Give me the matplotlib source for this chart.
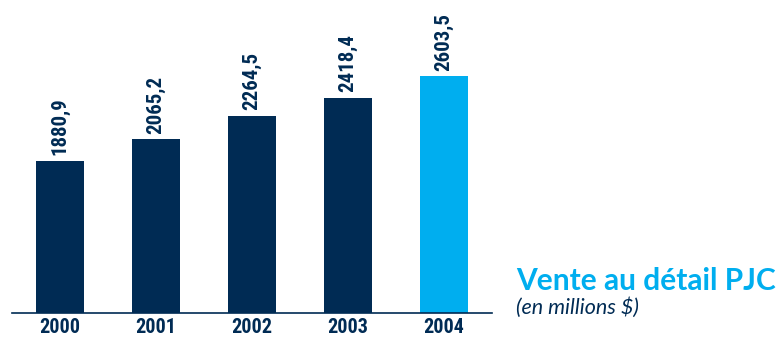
import matplotlib
matplotlib.use('Agg')
import matplotlib.pyplot as plt
from matplotlib import font_manager

# Retail sales by year (millions $)
years = ['2000', '2001', '2002', '2003', '2004']
sales = [1880.9, 2065.2, 2264.5, 2418.4, 2603.5]
labels = ['1880,9', '2065,2', '2264,5', '2418,4', '2603,5']

navy = '#002B54'
cyan = '#00AEEF'
colors = [navy, navy, navy, navy, cyan]

# pick a narrow face if one is around
names = {f.name for f in font_manager.fontManager.ttflist}
narrow = 'DejaVu Sans'
for cand in ['Liberation Sans Narrow', 'Roboto Condensed', 'Open Sans Condensed',
             'DejaVu Sans Condensed', 'Noto Sans Condensed']:
    if cand in names:
        narrow = cand
        break

fig = plt.figure(figsize=(7.83, 3.4), dpi=100)
ax = fig.add_axes([12 / 783, 27.3 / 340, 480 / 783, 312.7 / 340])

x = range(len(years))
bars = ax.bar(x, sales, width=0.5, color=colors, bottom=0)

ax.set_xlim(-0.5, 4.5)
ax.set_ylim(575, 575 + 312.7 / 0.1165)

# value labels standing on top of each bar
for xi, v, lab in zip(x, sales, labels):
    ax.annotate(lab, (xi, v), xytext=(0, 4), textcoords='offset points',
                rotation=90, ha='center', va='bottom', fontsize=15,
                fontweight='bold', color=navy, family=narrow)

for s in ['top', 'right', 'left']:
    ax.spines[s].set_visible(False)
ax.spines['bottom'].set_color(navy)
ax.spines['bottom'].set_linewidth(1.2)
ax.set_yticks([])
ax.set_xticks(list(x))
ax.set_xticklabels(years, fontsize=14.5, fontweight='bold', color=navy,
                   family=narrow)
ax.tick_params(axis='x', length=0, pad=4)

fig.text(516 / 783, 1 - 290 / 340, 'Vente au détail PJC', fontsize=21.5,
         fontweight='bold', color=cyan, family='Lato', va='baseline')
fig.text(516 / 783, 1 - 314 / 340, '(en millions $)', fontsize=15.5,
         style='italic', color=navy, family='Lato', va='baseline')

fig.savefig('out.png', dpi=100)
